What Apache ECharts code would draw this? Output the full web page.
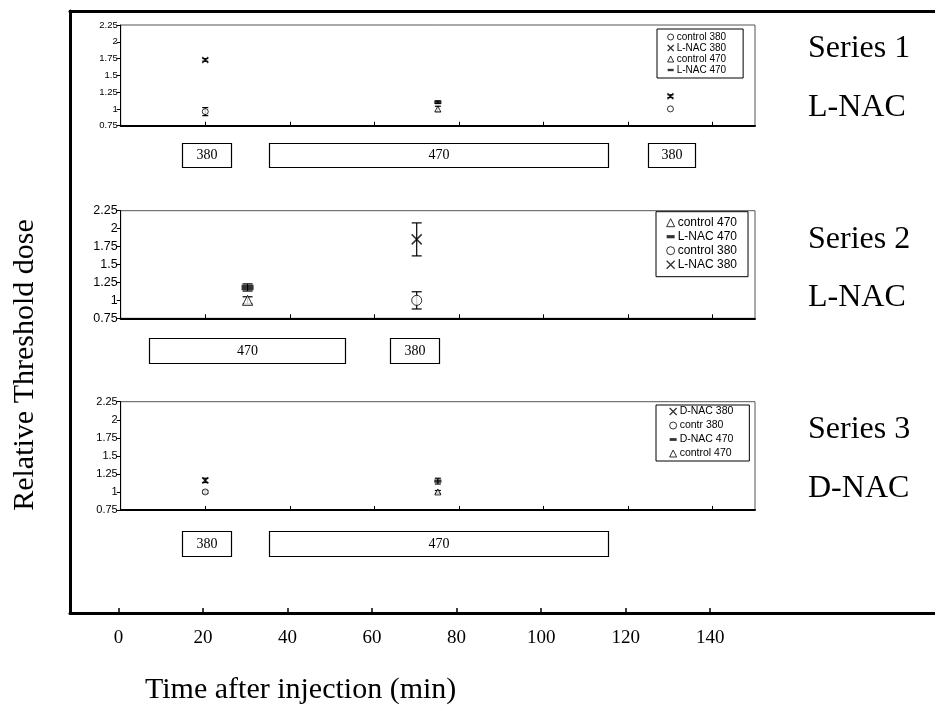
<!DOCTYPE html>
<html><head><meta charset="utf-8">
<script src="https://cdn.jsdelivr.net/npm/echarts@6/dist/echarts.min.js"></script>
<style>html,body{margin:0;padding:0;background:#fff}#c{width:935px;height:716px}</style>
</head><body><div id="c"></div>
<script>
// ---------- DATA ----------
const xTickValues = [0, 20, 40, 60, 80, 100, 120, 140];
const panelTickValues = [20, 40, 60, 80, 100, 120, 140];
const yMin = 0.75, yMax = 2.25, yStep = 0.25;

// each point: [time (min), relative threshold dose, error]
// Series 1 (L-NAC)
const s1Control380 = [[20, 0.96, 0.06], [130, 1.00, 0]];
const s1LNAC380    = [[20, 1.73, 0.02], [130, 1.19, 0.02]];
const s1Control470 = [[75, 1.00, 0.04]];
const s1LNAC470    = [[75, 1.10, 0.02]];
// Series 2 (L-NAC)
const s2Control470 = [[30, 1.00, 0.05]];
const s2LNAC470    = [[30, 1.18, 0.05]];
const s2Control380 = [[70, 1.00, 0.12]];
const s2LNAC380    = [[70, 1.85, 0.23]];
// Series 3 (D-NAC)
const s3DNAC380    = [[20, 1.16, 0.03]];
const s3Contr380   = [[20, 1.00, 0.02]];
const s3DNAC470    = [[75, 1.15, 0.04]];
const s3Control470 = [[75, 1.00, 0.02]];

// stimulus periods: [start, end, wavelength label]
const s1Stimuli = [[14.5, 26, '380'], [35, 115.2, '470'], [124.6, 135.8, '380']];
const s2Stimuli = [[6.75, 53, '470'], [63.7, 75.4, '380']];
const s3Stimuli = [[14.5, 26, '380'], [35, 115.2, '470']];

const panelTitles = [['Series 1', 'L-NAC'], ['Series 2', 'L-NAC'], ['Series 3', 'D-NAC']];
const yTitle = 'Relative Threshold dose';
const xTitle = 'Time after injection (min)';

// ---------- STYLE / LAYOUT ----------
const SERIF = '"Liberation Serif", "Times New Roman", serif';
const SANS = '"Liberation Sans", Arial, sans-serif';
const X_PATH = 'path://M0,0L10,10M10,0L0,10';
const BAR_PATH = 'path://M0,0H10V4H0Z';
const pxPerUnit = 591.7 / 140;
const mainZeroX = 118.5, frameLeft = 70;
const mainMin = -(mainZeroX - frameLeft) / pxPerUnit;
const mainMax = mainMin + (935 - frameLeft) / pxPerUnit;

const panelLeft = 120.7, panelRight = 180, panelXMax = 150;
const panels = [
  {top: 25, height: 100.7, font: 9.5, sym: 6, cap: 3, boxTop: 142.7, boxH: 24},
  {top: 210.7, height: 107.6, font: 12.5, sym: 10, cap: 5, boxTop: 338, boxH: 25},
  {top: 401.7, height: 108.3, font: 11, sym: 6, cap: 3, boxTop: 530.7, boxH: 25}
];

const styles = {
  circle: {symbol: 'circle', itemStyle: {color: '#fff', borderColor: '#000', borderWidth: 1}},
  tri: {symbol: 'triangle', itemStyle: {color: '#fff', borderColor: '#000', borderWidth: 1}},
  x: {symbol: X_PATH, itemStyle: {color: '#000', borderColor: '#000', borderWidth: 1.5}},
  bar: {symbol: 'rect', itemStyle: {color: '#000'}}
};
const legendIcon = {
  circle: {icon: 'circle', itemStyle: {color: '#fff', borderColor: '#000', borderWidth: 1}},
  tri: {icon: 'triangle', itemStyle: {color: '#fff', borderColor: '#000', borderWidth: 1}},
  x: {icon: X_PATH, itemStyle: {color: '#000', borderColor: '#000', borderWidth: 1.3}},
  bar: {icon: BAR_PATH, itemStyle: {color: '#000', borderWidth: 0}}
};

const panelSeries = [
  [['control 380', s1Control380, 'circle'], ['L-NAC 380', s1LNAC380, 'x'], ['control 470', s1Control470, 'tri'], ['L-NAC 470', s1LNAC470, 'bar']],
  [['control 470', s2Control470, 'tri'], ['L-NAC 470', s2LNAC470, 'bar'], ['control 380', s2Control380, 'circle'], ['L-NAC 380', s2LNAC380, 'x']],
  [['D-NAC 380', s3DNAC380, 'x'], ['contr 380', s3Contr380, 'circle'], ['D-NAC 470', s3DNAC470, 'bar'], ['control 470', s3Control470, 'tri']]
];
const stimuli = [s1Stimuli, s2Stimuli, s3Stimuli];
const legendCfg = [
  {left: 657, top: 29, padding: [3, 17, 3, 10], font: 10, iw: 6, ih: 6, lh: 6, gap: 1},
  {left: 656, top: 211.7, padding: [5, 11, 6, 10], font: 12, iw: 8, ih: 8, lh: 10, gap: 2},
  {left: 656, top: 405, padding: [1, 16, 2, 13], font: 10.5, iw: 7, ih: 7, lh: 10, gap: 3}
];

// ---------- OPTION ----------
const frameLine = {onZero: false, lineStyle: {color: '#000', width: 3}};
const grid = [{left: frameLeft, top: 11, right: 0, bottom: 103, show: false, outerBoundsMode: 'none'}];
const xAxis = [{
  gridIndex: 0, type: 'value', min: mainMin, max: mainMax, position: 'bottom',
  axisLine: frameLine,
  axisTick: {customValues: xTickValues, inside: true, length: 5, lineStyle: {color: '#000', width: 1.5}},
  axisLabel: {customValues: xTickValues, fontSize: 19, fontFamily: SERIF, color: '#000', margin: 16},
  splitLine: {show: false}
}, {
  gridIndex: 0, type: 'value', min: mainMin, max: mainMax, position: 'top',
  axisLine: frameLine, axisTick: {show: false}, axisLabel: {show: false}, splitLine: {show: false}
}];
const yAxis = [{gridIndex: 0, type: 'value', min: 0, max: 1, position: 'left',
  axisLine: {show: true, onZero: false, lineStyle: {color: '#000', width: 3}}, axisTick: {show: false}, axisLabel: {show: false}, splitLine: {show: false}}];
const series = [];
const legend = [];

panels.forEach((p, i) => {
  const gi = grid.length;
  grid.push({left: panelLeft, right: panelRight, top: p.top, height: p.height, show: true, borderColor: '#555', borderWidth: 1});
  const xi = xAxis.length, yi = yAxis.length;
  xAxis.push({gridIndex: gi, type: 'value', min: 0, max: panelXMax,
    axisLine: {lineStyle: {color: '#000', width: 2}},
    axisTick: {customValues: panelTickValues, inside: true, length: 4, lineStyle: {color: '#000'}},
    axisLabel: {show: false}, splitLine: {show: false}});
  yAxis.push({gridIndex: gi, type: 'value', min: yMin, max: yMax, interval: yStep,
    axisLine: {show: true, lineStyle: {color: '#000', width: 1}},
    axisTick: {show: true, length: 4, lineStyle: {color: '#000'}},
    axisLabel: {fontSize: p.font, fontFamily: SANS, color: '#000', margin: 3},
    splitLine: {show: false}});
  // error bars + markers
  panelSeries[i].forEach(([name, data, kind]) => {
    series.push({type: 'custom', xAxisIndex: xi, yAxisIndex: yi, silent: true, z: 3,
      encode: {x: 0, y: 1}, data: data.map(d => [d[0], d[1], d[2]]),
      renderItem: (params, api) => {
        const t = api.value(0), v = api.value(1), e = api.value(2);
        if (!e) return null;
        const a = api.coord([t, v + e]), b = api.coord([t, v - e]);
        const st = {stroke: '#000', lineWidth: 1.2};
        return {type: 'group', children: [
          {type: 'line', shape: {x1: a[0], y1: a[1], x2: b[0], y2: b[1]}, style: st},
          {type: 'line', shape: {x1: a[0] - p.cap, y1: a[1], x2: a[0] + p.cap, y2: a[1]}, style: st},
          {type: 'line', shape: {x1: b[0] - p.cap, y1: b[1], x2: b[0] + p.cap, y2: b[1]}, style: st}
        ]};
      }});
    const s = styles[kind];
    series.push({type: 'scatter', name, xAxisIndex: xi, yAxisIndex: yi, z: 5,
      data: data.map(d => [d[0], d[1]]), symbol: s.symbol,
      symbolSize: kind === 'bar' ? [p.sym * 1.2, p.sym * 0.55] : p.sym,
      itemStyle: s.itemStyle, emphasis: {disabled: true}});
  });
  const lc = legendCfg[i];
  legend.push({orient: 'vertical', left: lc.left, top: lc.top, padding: lc.padding,
    backgroundColor: '#fff', borderColor: '#000', borderWidth: 1, borderRadius: 0,
    itemWidth: lc.iw, itemHeight: lc.ih, itemGap: lc.gap, selectedMode: false,
    textStyle: {fontSize: lc.font, fontFamily: SANS, color: '#000', lineHeight: lc.lh, padding: [0, 0, 0, -2]},
    data: panelSeries[i].map(([name, , kind]) => Object.assign({name}, legendIcon[kind]))});
  // stimulus boxes row
  const bi = grid.length;
  grid.push({left: panelLeft, right: panelRight, top: p.boxTop, height: p.boxH, show: false});
  const bxi = xAxis.length, byi = yAxis.length;
  xAxis.push({gridIndex: bi, type: 'value', min: 0, max: panelXMax, show: false});
  yAxis.push({gridIndex: bi, type: 'value', min: 0, max: 1, show: false});
  const rows = stimuli[i];
  series.push({type: 'custom', xAxisIndex: bxi, yAxisIndex: byi, silent: true,
    encode: {x: [0, 1], y: 2}, data: rows.map(r => [r[0], r[1], 0.5]),
    renderItem: (params, api) => {
      const a = api.coord([api.value(0), 1]), b = api.coord([api.value(1), 0]);
      return {type: 'rect', shape: {x: Math.round(a[0]) + 0.5, y: Math.round(a[1]) + 0.5, width: Math.round(b[0] - a[0]), height: Math.round(b[1] - a[1])},
        style: {fill: '#fff', stroke: '#000', lineWidth: 1.2},
        textContent: {style: {text: rows[params.dataIndex][2], fontSize: 14, fontFamily: SERIF, fill: '#000'}},
        textConfig: {position: 'inside'}};
    }});
});

const titleY = [[50, 109], [241, 299], [431, 490]];
const graphic = [];
panelTitles.forEach((t, i) => {
  graphic.push({type: 'text', left: 808, top: titleY[i][0] - 17, style: {text: t[0], fontSize: 32, fontFamily: SERIF, fill: '#000'}});
  graphic.push({type: 'text', left: 808, top: titleY[i][1] - 17, style: {text: t[1], fontSize: 32, fontFamily: SERIF, fill: '#000'}});
});
graphic.push({type: 'text', x: 25, y: 365, rotation: Math.PI / 2,
  style: {text: yTitle, fontSize: 30, fontFamily: SERIF, fill: '#000', align: 'center', verticalAlign: 'middle'}});
graphic.push({type: 'text', left: 145, top: 675, style: {text: xTitle, fontSize: 30, fontFamily: SERIF, fill: '#000'}});

const chart = echarts.init(document.getElementById('c'), null, {renderer: 'canvas'});
chart.setOption({animation: false, backgroundColor: '#fff', grid, xAxis, yAxis, series, legend, graphic});
</script></body></html>
